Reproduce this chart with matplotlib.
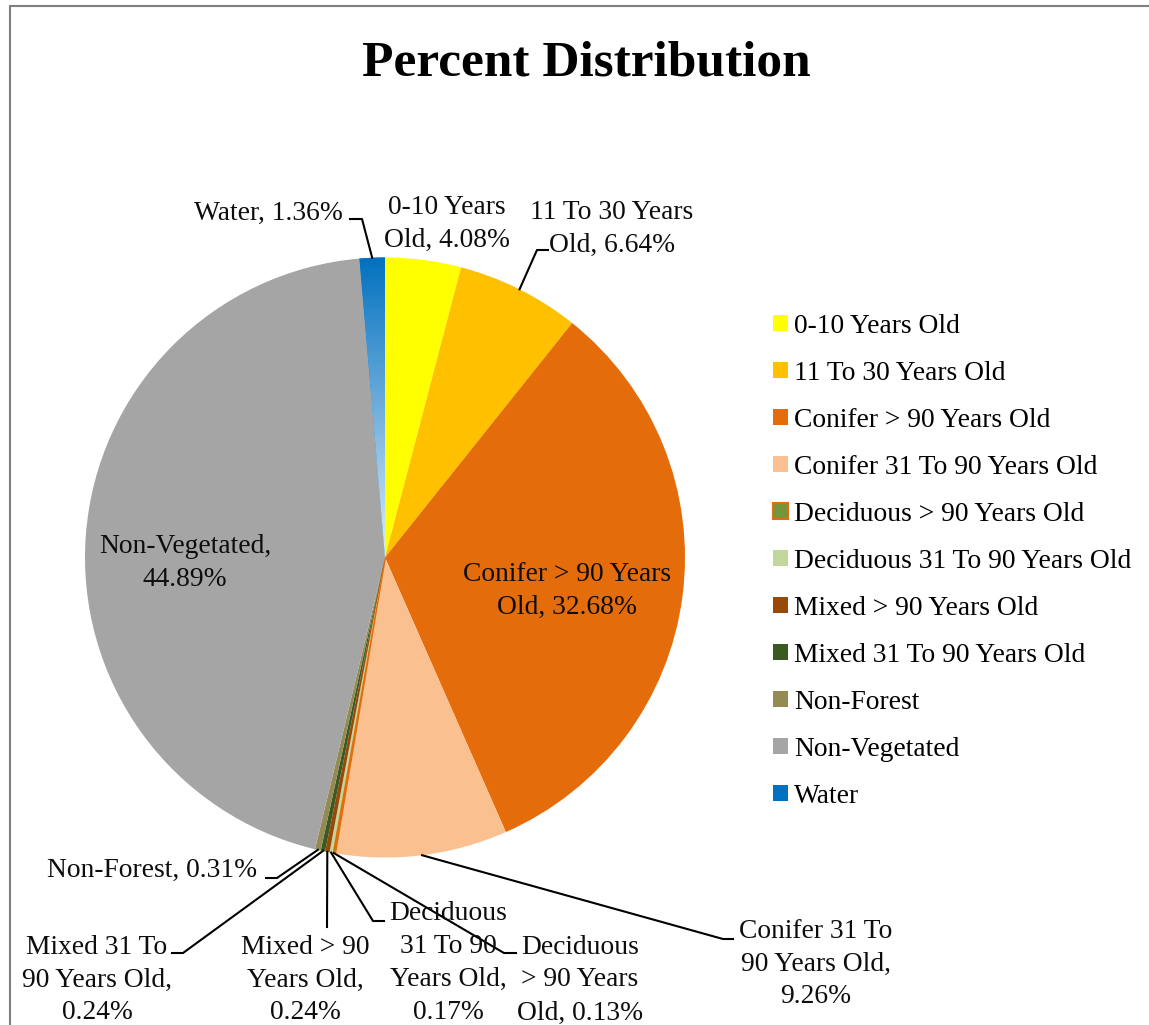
import numpy as np
import matplotlib
matplotlib.use('Agg')
import matplotlib.pyplot as plt
from matplotlib.patches import Rectangle

# data
categories = ['0-10 Years Old', '11 To 30 Years Old', 'Conifer > 90 Years Old',
              'Conifer 31 To 90 Years Old', 'Deciduous > 90 Years Old',
              'Deciduous 31 To 90 Years Old', 'Mixed > 90 Years Old',
              'Mixed 31 To 90 Years Old', 'Non-Forest', 'Non-Vegetated', 'Water']
values = [4.08, 6.64, 32.68, 9.26, 0.13, 0.17, 0.24, 0.24, 0.31, 44.89, 1.36]
colors = ['#FFFF00', '#FFC000', '#E46C0A', '#FAC090', '#77933C', '#C3D69B',
          '#984807', '#3A5A22', '#948A54', '#A5A5A5', '#0070C0']
# how the data labels are wrapped in the chart
wrapped = ['0-10 Years\nOld', '11 To 30 Years\nOld', 'Conifer > 90 Years\nOld',
           'Conifer 31 To\n90 Years Old', 'Deciduous\n> 90 Years\nOld',
           'Deciduous\n31 To 90\nYears Old', 'Mixed > 90\nYears Old',
           'Mixed 31 To\n90 Years Old', 'Non-Forest', 'Non-Vegetated', 'Water']
seps = [', ', ', ', ', ', ',\n', ', ', ',\n', ',\n', ',\n', ', ', ',\n', ', ']

W, H = 1149, 1025
FS = 19.8
plt.rcParams['font.family'] = ['Liberation Serif', 'DejaVu Serif']

fig = plt.figure(figsize=(W / 100, H / 100), dpi=100)
ax = fig.add_axes([0, 0, 1, 1])

def py(y):
    # pixel row (from top) -> axis y
    return H - y

cx, cy, r = 385, py(557.5), 300
wedges, _ = ax.pie(values, colors=colors, startangle=90, counterclock=False,
                   center=(cx, cy), radius=r, frame=True,
                   wedgeprops=dict(linewidth=0))
# deciduous > 90 has an orange outline
wedges[4].set_edgecolor('#E46C0A')
wedges[4].set_linewidth(1.5)

# water slice: blue gradient, dark at the rim
grad = np.linspace(0, 1, 256).reshape(-1, 1)
cmap = matplotlib.colors.LinearSegmentedColormap.from_list('w', ['#0070C0', '#DDEBF7'])
im = ax.imshow(grad, cmap=cmap, extent=(cx - 30, cx + 5, cy, cy + r + 2), aspect='auto',
               origin='upper', zorder=wedges[10].get_zorder() + 0.1)
im.set_clip_path(wedges[10])

# label placement (pixel positions) and leader elbows
lab_pos = [(447, 224, 'center'), (612, 229, 'center'), (567, 591, 'center'),
           (816, 964, 'center'), (580, 980, 'center'), (448, 963, 'center'),
           (305, 980, 'center'), (97, 980, 'center'), (257, 870, 'right'),
           (185, 563, 'center'), (343, 213, 'right')]
leaders = [None, [(537, 250), (548, 250)], None, [(723, 939), (733, 939)],
           [(504, 953), (516, 953)], [(373, 921), (384, 921)], [(327, 927)],
           [(183, 953), (172, 953)], [(277, 878), (266, 878)], None,
           [(362, 219), (350, 219)]]

for w, name, sep, v, (lx, ly, ha), ld in zip(wedges, wrapped, seps, values, lab_pos, leaders):
    ax.text(lx, py(ly), f'{name}{sep}{v:.2f}%', ha=ha, va='center', fontsize=FS,
            linespacing=1.42, color='#0D0D0D', zorder=5)
    if ld:
        ang = np.deg2rad((w.theta1 + w.theta2) / 2)
        xs = [cx + r * np.cos(ang)] + [p[0] for p in ld]
        ys = [cy + r * np.sin(ang)] + [py(p[1]) for p in ld]
        ax.plot(xs, ys, color='black', lw=1.5, zorder=4)

ax.text(586, py(75), 'Percent Distribution', ha='center', va='baseline',
        fontsize=37, fontweight='bold', color='black')

ax.legend(wedges, categories, loc='upper left', bbox_to_anchor=(773 / W, 1 - 314 / H),
          frameon=False, fontsize=FS, handlelength=0.53, handleheight=0.53,
          handletextpad=0.25, labelspacing=0.80, borderpad=0, borderaxespad=0)

# chart border
ax.add_patch(Rectangle((9.5, -20), 1200, py(5.5) + 20, fill=False,
                       edgecolor='#7F7F7F', lw=1.5, clip_on=False))

ax.set_xlim(0, W)
ax.set_ylim(0, H)
ax.set_aspect('auto')
ax.axis('off')

fig.savefig('out.png', dpi=100)
